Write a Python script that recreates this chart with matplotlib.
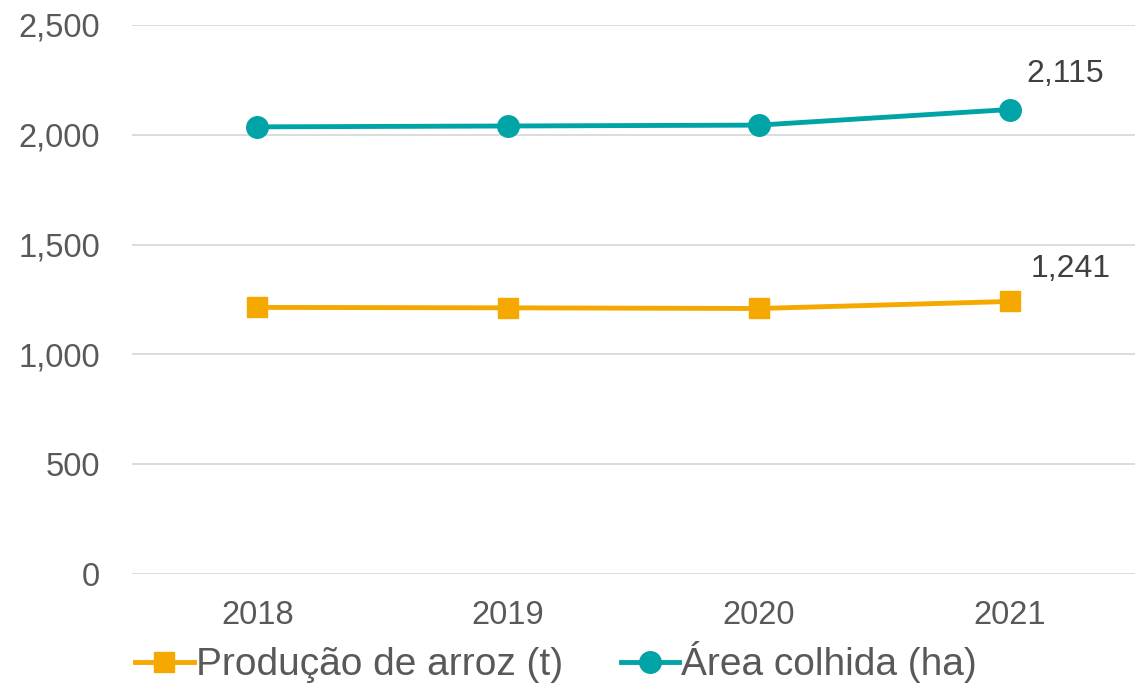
import matplotlib.pyplot as plt
from matplotlib.ticker import FuncFormatter

plt.rcParams['font.family'] = ['Liberation Sans', 'DejaVu Sans']

anos = ['2018', '2019', '2020', '2021']
producao = [1214, 1212, 1209, 1241]
area = [2036, 2040, 2044, 2115]

fig = plt.figure(figsize=(11.35, 6.84), dpi=100)
ax = fig.add_axes([0.1163, 0.1608, 0.8837, 0.8027])

x = range(len(anos))
ax.plot(x, producao, color='#F5A800', linewidth=3.5, marker='s', markersize=15,
        label='Produção de arroz (t)')
ax.plot(x, area, color='#00A3A6', linewidth=3.5, marker='o', markersize=15.5,
        label='Área colhida (ha)')

ax.annotate('2,115', (3, area[-1]), xytext=(56, 36), textcoords='offset pixels',
            ha='center', va='center', fontsize=23, color='#404040')
ax.annotate('1,241', (3, producao[-1]), xytext=(61, 32), textcoords='offset pixels',
            ha='center', va='center', fontsize=23, color='#404040')

ax.set_xlim(-0.5, 3.5)
ax.set_ylim(0, 2500)
ax.set_yticks(range(0, 2501, 500))
ax.yaxis.set_major_formatter(FuncFormatter(lambda v, p: f'{int(v):,}'))
ax.set_xticks(list(x))
ax.set_xticklabels(anos)
ax.tick_params(length=0, labelsize=23.5, labelcolor='#595959')
ax.tick_params(axis='y', pad=23)
ax.tick_params(axis='x', pad=19)
ax.grid(axis='y', color='#d9d9d9', linewidth=1.3)
ax.set_axisbelow(True)
for s in ax.spines.values():
    s.set_visible(False)

fig.legend(loc='center', bbox_to_anchor=(0.49, 0.032), ncol=2, frameon=False,
           fontsize=28, labelcolor='#595959', handlelength=1.5,
           handletextpad=0.05, columnspacing=1.5, markerscale=1.0)

fig.savefig('out.png', dpi=100)
